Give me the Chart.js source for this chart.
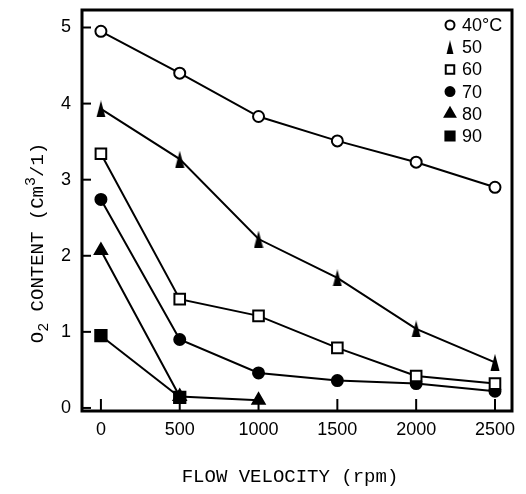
<!DOCTYPE html>
<html>
<head>
<meta charset="utf-8">
<title>O2 content vs flow velocity</title>
<script src="https://cdn.jsdelivr.net/npm/chart.js@4/dist/chart.umd.min.js"></script>
<style>
  html, body { margin: 0; padding: 0; background: #fff; }
  canvas { display: block; }
</style>
</head>
<body>
<canvas id="chart" width="526" height="494"></canvas>
<script>
// flow velocity (rpm) and O2 content (cm3/l)
const velocity = [0, 500, 1000, 1500, 2000, 2500];
const o2At40 = [4.95, 4.40, 3.83, 3.51, 3.23, 2.90];
const o2At50 = [3.93, 3.27, 2.22, 1.71, 1.04, 0.60];
const o2At60 = [3.34, 1.43, 1.21, 0.79, 0.42, 0.32];
const o2At70 = [2.74, 0.90, 0.46, 0.36, 0.32, 0.22];
const o2At80 = [2.07, 0.15, 0.10];
const o2At90 = [0.95, 0.14];
const seriesLabels = ["40°C", "50", "60", "70", "80", "90"];
const xTicks = [0, 500, 1000, 1500, 2000, 2500];
const yTicks = [0, 1, 2, 3, 4, 5];

// tall thin triangle used for the 50 series
function makeSlimTriangle(w, h) {
  const cv = document.createElement("canvas");
  cv.width = w;
  cv.height = h;
  const c = cv.getContext("2d");
  c.fillStyle = "#000";
  c.beginPath();
  c.moveTo(w / 2, 0);
  c.lineTo(w - 0.5, h);
  c.lineTo(0.5, h);
  c.closePath();
  c.fill();
  return cv;
}
const slimTriangle = makeSlimTriangle(10, 17);
const slimTriangleSmall = makeSlimTriangle(8, 14);

const toPoints = (ys) => ys.map((y, i) => ({ x: velocity[i], y: y }));

const styles = [
  { pointStyle: "circle", pointRadius: 5.5, pointBackgroundColor: "#fff" },
  { pointStyle: slimTriangle, pointRadius: 6, pointBackgroundColor: "#000" },
  { pointStyle: "rect", pointRadius: 7.5, pointBackgroundColor: "#fff" },
  { pointStyle: "circle", pointRadius: 5.5, pointBackgroundColor: "#000" },
  { pointStyle: "triangle", pointRadius: 7, pointBackgroundColor: "#000" },
  { pointStyle: "rect", pointRadius: 8, pointBackgroundColor: "#000" },
];
// legend markers are a little smaller than the plotted ones
const legendMarks = [
  { style: "circle", r: 4.5 },
  { style: slimTriangleSmall, r: 5 },
  { style: "rect", r: 6 },
  { style: "circle", r: 4.5 },
  { style: "triangle", r: 6 },
  { style: "rect", r: 6.5 },
];
const series = [o2At40, o2At50, o2At60, o2At70, o2At80, o2At90];

const datasets = series.map((ys, i) => ({
  label: seriesLabels[i],
  data: toPoints(ys),
  borderColor: "#000",
  borderWidth: 2,
  pointBorderColor: "#000",
  pointBorderWidth: 2,
  ...styles[i],
}));

const tickFont = { family: "'Liberation Sans', Arial, sans-serif", size: 18 };
const monoFont = "'Liberation Mono', 'Courier New', monospace";

// frame, inward ticks, legend and axis titles
const decorations = {
  id: "decorations",
  afterDraw(chart) {
    const ctx = chart.ctx;
    const a = chart.chartArea;
    const xs = chart.scales.x;
    const ys = chart.scales.y;
    ctx.save();
    ctx.strokeStyle = "#000";
    ctx.lineWidth = 3;
    ctx.strokeRect(a.left, a.top, a.right - a.left, a.bottom - a.top);

    ctx.lineWidth = 2;
    xTicks.forEach((v) => {
      const px = xs.getPixelForValue(v);
      ctx.beginPath();
      ctx.moveTo(px, a.bottom);
      ctx.lineTo(px, a.bottom - 12);
      ctx.stroke();
    });
    yTicks.forEach((v) => {
      const py = ys.getPixelForValue(v);
      ctx.beginPath();
      ctx.moveTo(a.left, py);
      ctx.lineTo(a.left + 9, py);
      ctx.stroke();
    });

    // legend inside the plot, top right
    ctx.font = "18px " + tickFont.family;
    ctx.textBaseline = "middle";
    ctx.textAlign = "left";
    chart.data.datasets.forEach((ds, i) => {
      const y = 25 + i * 22.2;
      ctx.fillStyle = ds.pointBackgroundColor;
      ctx.strokeStyle = "#000";
      ctx.lineWidth = 2;
      Chart.helpers.drawPoint(ctx, {
        pointStyle: legendMarks[i].style,
        radius: legendMarks[i].r,
        rotation: 0,
        borderWidth: 2,
      }, 450, y);
      ctx.fillStyle = "#000";
      ctx.fillText(ds.label, 462, y + 1);
    });

    // x title
    ctx.font = "19px " + monoFont;
    ctx.textAlign = "center";
    ctx.textBaseline = "alphabetic";
    ctx.fillText("FLOW VELOCITY (rpm)", 290, 482);

    // y title with sub/superscripts
    const parts = [
      { t: "O", size: 19, dy: 0 },
      { t: "2", size: 15, dy: 5 },
      { t: " CONTENT (Cm", size: 19, dy: 0 },
      { t: "3", size: 15, dy: -8 },
      { t: "/1)", size: 19, dy: 0 },
    ];
    let total = 0;
    parts.forEach((p) => {
      ctx.font = p.size + "px " + monoFont;
      p.w = ctx.measureText(p.t).width;
      total += p.w;
    });
    ctx.translate(43, 243);
    ctx.rotate(-Math.PI / 2);
    ctx.textAlign = "left";
    let x = -total / 2;
    parts.forEach((p) => {
      ctx.font = p.size + "px " + monoFont;
      ctx.fillText(p.t, x, p.dy);
      x += p.w;
    });
    ctx.restore();
  },
};

new Chart(document.getElementById("chart"), {
  type: "line",
  data: { datasets: datasets },
  options: {
    responsive: false,
    animation: false,
    layout: { padding: { top: 5, right: 14, left: 0, bottom: 0 } },
    plugins: { legend: { display: false }, tooltip: { enabled: false } },
    scales: {
      x: {
        type: "linear",
        min: -120,
        max: 2608,
        afterBuildTicks: (s) => { s.ticks = xTicks.map((v) => ({ value: v })); },
        afterFit: (s) => { s.height = 83; s.paddingLeft = 0; s.paddingRight = 0; },
        grid: { display: false, drawTicks: false },
        border: { display: false },
        ticks: { padding: 8, color: "#000", font: tickFont, maxRotation: 0, callback: (v) => String(v) },
      },
      y: {
        type: "linear",
        min: -0.04,
        max: 5.23,
        afterBuildTicks: (s) => { s.ticks = yTicks.map((v) => ({ value: v })); },
        // labels sit well inside the range, so no extra room above/below
        afterFit: (s) => { s.width = 82; s.paddingTop = 0; s.paddingBottom = 0; },
        grid: { display: false, drawTicks: false },
        border: { display: false },
        ticks: { padding: 11, color: "#000", font: tickFont, callback: (v) => String(v) },
      },
    },
  },
  plugins: [decorations],
});
</script>
</body>
</html>
